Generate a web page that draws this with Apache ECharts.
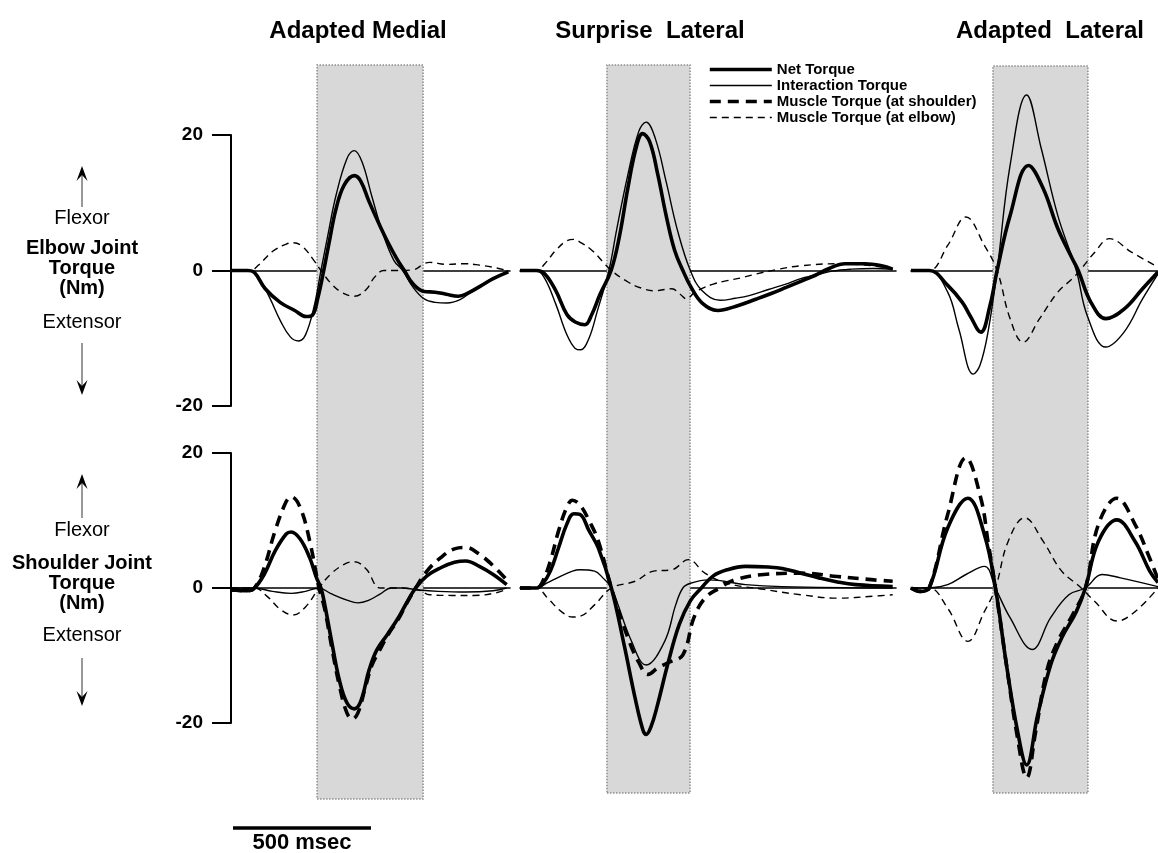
<!DOCTYPE html>
<html><head><meta charset="utf-8">
<script src="https://cdn.jsdelivr.net/npm/echarts@6/dist/echarts.min.js"></script>
<style>html,body{margin:0;padding:0;background:#fff}#c{width:1158px;height:853px}</style>
</head><body><div id="c"></div>
<script>
// ---------- data (time in ms, torque in Nm) ----------
const columnTitles = ['Adapted Medial', 'Surprise  Lateral', 'Adapted  Lateral'];
const seriesNames = ['Net Torque', 'Interaction Torque', 'Muscle Torque (at shoulder)', 'Muscle Torque (at elbow)'];
const yTicks = [-20, 0, 20];
const columnSpanMs = [1011, 1362, 895];
const shadeStartMs = [312, 315, 297];
const shadeEndMs = [696, 616, 641];
const scaleBarMs = 500;

// Adapted Medial — elbow
const amElbowNet = [[0,0],[60,0],[85,-0.3],[124,-2.7],[178,-4.7],[231,-5.9],[272,-6.8],[295,-6.6],[315,-4],[336,0],[355,4],[380,9],[410,12.6],[447,14],[470,13.2],[500,10.2],[535,7],[568,4.2],[600,1.8],[628,0],[660,-2],[700,-3.1],[740,-3.2],[780,-3.5],[824,-3.8],[860,-3.3],[904,-2.3],[950,-1.2],[1005,-0.2]];
const amElbowInt = [[0,0],[70,0],[100,-1],[140,-4],[180,-7.5],[215,-9.8],[245,-10.4],[270,-9.5],[300,-5.5],[326,0],[350,5],[380,11],[420,16.5],[447,17.7],[475,16],[510,11],[550,5.5],[590,1.5],[622,0],[660,-2.5],[700,-4.2],[740,-4.7],[783,-4.8],[830,-4.3],[870,-3.2],[920,-1.8],[970,-0.8],[1005,0]];
const amElbowMusE = [[0,0],[70,0],[100,0.8],[150,2.8],[200,3.9],[225,4.1],[260,3.5],[300,1.5],[326,0],[360,-1.8],[400,-3.2],[447,-3.8],[490,-2.8],[520,-1],[554,0],[600,0],[660,0.1],[700,1],[720,1.2],[780,0.9],[850,1],[900,0.8],[960,0.4],[1000,0]];
// Adapted Medial — shoulder
const amShoulderNet = [[0,-0.3],[60,-0.4],[85,0],[120,2],[160,5.5],[200,8],[218,8.3],[250,7.3],[285,4.5],[310,1.5],[326,0],[339,-2.3],[366,-8.2],[393,-13.7],[420,-17],[447,-17.9],[470,-16.8],[500,-12.2],[528,-9.2],[568,-6.8],[608,-4.3],[635,-2.3],[669,0],[710,1.8],[760,3],[810,3.8],[851,4],[900,3.2],[950,2],[999,0.5]];
const amShoulderInt = [[0,0],[85,0],[150,-0.5],[218,-0.8],[270,-0.5],[319,0],[360,-0.8],[420,-1.8],[460,-2.2],[500,-1.8],[540,-0.9],[581,0],[620,0],[680,-0.3],[750,-0.5],[850,-0.6],[950,-0.4],[999,0]];
const amShoulderMusS = [[0,-0.3],[60,-0.4],[85,0],[120,3],[160,8.5],[200,12.8],[218,13.5],[250,12],[285,7],[319,0],[339,-3],[366,-9],[393,-14.5],[420,-18.5],[440,-19.4],[460,-18.5],[485,-15],[510,-11.5],[535,-9.5],[568,-7],[608,-4.5],[635,-2.4],[669,0],[710,2.5],[760,4.5],[810,5.8],[851,6],[900,5],[950,3.3],[999,1.2]];
const amShoulderMusE = [[0,0],[85,0],[130,-1.2],[180,-3.2],[225,-4],[270,-2.8],[319,0],[360,2],[410,3.5],[447,3.9],[490,2.8],[541,0],[600,0],[680,-0.3],[720,-1],[800,-1.1],[880,-1.1],[950,-0.8],[999,-0.2]];

// Surprise Lateral — elbow
const slElbowNet = [[0,0],[60,0],[90,-0.5],[130,-3],[170,-6.5],[200,-7.6],[235,-8],[260,-6.5],[290,-3.5],[330,0],[360,5],[390,12],[420,18],[444,20.2],[470,19],[500,14],[530,8],[560,3],[590,0],[620,-2.5],[660,-4.8],[717,-5.9],[780,-5.3],[857,-4.2],[910,-3.4],[964,-2.5],[1017,-1.6],[1070,-0.7],[1120,0.3],[1177,1],[1250,1],[1310,0.7],[1350,0.2]];
const slElbowInt = [[0,0],[60,0],[90,-1.2],[130,-5],[170,-9.5],[200,-11.5],[220,-11.7],[250,-10],[280,-6],[322,0],[350,6],[390,14],[430,20.5],[457,21.9],[490,19.5],[530,13],[570,6],[617,0],[660,-3],[725,-4.4],[780,-4.1],[830,-3.7],[900,-2.8],[963,-2],[1017,-1.2],[1070,-0.7],[1130,-0.1],[1200,0.2],[1280,0.3],[1350,0.2]];
const slElbowMusE = [[0,0],[60,0],[90,1],[130,3],[170,4.4],[195,4.6],[217,4.2],[260,3],[300,1.3],[331,0],[391,-1.7],[440,-2.6],[484,-3],[550,-2.7],[580,-3.5],[604,-4.2],[630,-3.3],[657,-2.7],[700,-2],[750,-1.5],[800,-1.1],[857,-0.5],[937,0.2],[1017,0.7],[1150,1],[1250,0.8],[1310,0.5],[1350,0.2]];
// Surprise Lateral — shoulder
const slShoulderNet = [[0,0],[60,0],[80,0.5],[110,2.5],[140,6],[170,9.5],[195,11],[217,10.9],[250,8.5],[284,5.9],[331,0],[377,-8.4],[417,-16.3],[445,-21],[457,-21.7],[475,-20.5],[497,-17.5],[537,-11],[577,-5.4],[617,-1.9],[657,0],[700,1.8],[750,2.7],[817,3.2],[900,3.1],[950,2.9],[1017,2.2],[1083,1.5],[1150,0.9],[1216,0.5],[1350,0.2]];
const slShoulderInt = [[0,0],[60,0],[100,0.8],[150,1.8],[190,2.5],[217,2.7],[270,2.5],[300,1.5],[331,0],[404,-7.9],[457,-11.4],[524,-7.9],[564,-2.5],[590,0],[617,0.7],[684,1.2],[817,0.5],[950,0.2],[1350,0]];
const slShoulderMusS = [[0,0],[60,0],[80,0.8],[110,4],[140,8.5],[170,12],[190,13],[217,12.3],[250,10],[284,6.9],[331,0],[391,-7.4],[430,-11],[464,-12.8],[500,-11.8],[540,-11],[590,-9.9],[630,-4.4],[670,-1.5],[723,0],[777,1.2],[883,2],[1017,2.2],[1150,1.7],[1283,1.2],[1350,1]];
const slShoulderMusE = [[0,0],[60,0],[100,-1.5],[150,-3.5],[190,-4.3],[217,-4.2],[270,-2.5],[331,0],[417,1],[484,2.5],[550,2.7],[610,4.2],[670,2.2],[750,0.7],[883,-0.2],[1017,-1],[1150,-1.5],[1283,-1.2],[1350,-1]];

// Adapted Lateral — elbow
const alElbowNet = [[0,0],[66,0],[133,-2.2],[186,-4.7],[213,-6.6],[253,-9.1],[286,-5.2],[312,0],[359,8.1],[426,15.5],[479,12.1],[532,6.2],[585,1.7],[606,0],[652,-4.7],[706,-7.1],[772,-5.7],[839,-2.7],[895,-0.2]];
const alElbowInt = [[0,0],[66,0],[133,-3.2],[173,-8.6],[226,-15.3],[250,-14],[279,-9.1],[312,0],[359,15.5],[419,25.9],[472,18],[532,8.1],[599,0],[639,-6.7],[706,-11.3],[772,-9.1],[839,-4.2],[895,-0.5]];
const alElbowMusE = [[0,0],[66,0],[133,3.7],[199,7.9],[266,3.7],[312,0],[359,-7.1],[406,-10.6],[466,-7.1],[532,-3.2],[585,-1.2],[612,0],[666,2.7],[719,4.7],[799,2.7],[895,0.5]];
// Adapted Lateral — shoulder
const alShoulderNet = [[0,0],[33,-0.5],[66,0],[133,8.9],[206,13.3],[266,7.9],[306,0],[346,-11.4],[386,-21.2],[419,-26.2],[459,-18.8],[506,-11.4],[546,-7.4],[599,-3.5],[632,0],[679,6.9],[746,10.1],[812,6.9],[865,2.5],[895,0.8]];
const alShoulderInt = [[0,0],[66,0],[133,0.5],[199,2],[266,3.2],[306,0],[359,-4.4],[439,-9.1],[506,-4.4],[572,-1],[632,0],[692,2],[759,1.5],[895,0.2]];
const alShoulderMusS = [[0,0],[33,-0.5],[66,0],[133,10.9],[199,19.3],[253,13.3],[279,6.9],[306,0],[346,-11.4],[386,-22.2],[419,-28.1],[452,-21.2],[492,-12.3],[532,-7.9],[585,-4],[632,0],[679,9.4],[746,13.3],[812,9.4],[865,4.4],[895,1.3]];
const alShoulderMusE = [[0,0],[66,0],[133,-3],[206,-7.9],[266,-3.5],[306,0],[352,6.9],[412,10.4],[479,6.9],[546,2.5],[612,0.2],[666,-2],[746,-4.9],[812,-3.5],[895,0]];

// ---------- layout ----------
const FONT = "'Liberation Sans', Arial, Helvetica, sans-serif";
const rowBoxes = [{top:135, height:271}, {top:453, height:270}];
const colBoxes = [{left:231, width:279}, {left:520, width:376}, {left:911, width:247}];
const shadeBoxes = [{top:65, height:734}, {top:65, height:728}, {top:66, height:727}];

const panels = [
  [ [amElbowNet, amElbowInt, null, amElbowMusE], [slElbowNet, slElbowInt, null, slElbowMusE], [alElbowNet, alElbowInt, null, alElbowMusE] ],
  [ [amShoulderNet, amShoulderInt, amShoulderMusS, amShoulderMusE], [slShoulderNet, slShoulderInt, slShoulderMusS, slShoulderMusE], [alShoulderNet, alShoulderInt, alShoulderMusS, alShoulderMusE] ]
];
const lineLook = [
  {width:3.6, type:'solid', z:6},
  {width:1.4, type:'solid', z:5},
  {width:3.6, type:[11,7], z:4},
  {width:1.4, type:[7,5], z:4}
];

const grids = [], xAxes = [], yAxes = [], series = [];
for (let r = 0; r < 2; r++) {
  for (let c = 0; c < 3; c++) {
    const g = grids.length;
    grids.push({left: colBoxes[c].left, width: colBoxes[c].width, top: rowBoxes[r].top, height: rowBoxes[r].height, containLabel:false});
    xAxes.push({type:'value', gridIndex:g, min:0, max:columnSpanMs[c],
      axisLine:{show:true, onZero:true, lineStyle:{color:'#000', width:1.6}},
      axisTick:{show:false}, axisLabel:{show:false}, splitLine:{show:false}});
    const showY = c === 0;
    yAxes.push({type:'value', gridIndex:g, min:yTicks[0], max:yTicks[2], interval:20, show:showY,
      axisLine:{show:true, lineStyle:{color:'#000', width:2}},
      axisTick:{show:true, inside:false, length:19, lineStyle:{color:'#000', width:2}},
      axisLabel:{show:true, margin:28, color:'#000', fontWeight:'bold', fontSize:19, fontFamily:FONT},
      splitLine:{show:false}});
    panels[r][c].forEach((data, k) => {
      if (!data) return;
      series.push({type:'line', name:seriesNames[k], xAxisIndex:g, yAxisIndex:g, data:data,
        smooth:0.4, symbol:'none', clip:false, z:lineLook[k].z,
        lineStyle:{color:'#000', width:lineLook[k].width, type:lineLook[k].type, cap:'butt'},
        itemStyle:{color:'#000'}});
    });
  }
}
// shaded movement windows: one full-height hidden grid per column
for (let c = 0; c < 3; c++) {
  const g = grids.length;
  grids.push({left: colBoxes[c].left, width: colBoxes[c].width, top: shadeBoxes[c].top, height: shadeBoxes[c].height});
  xAxes.push({type:'value', gridIndex:g, min:0, max:columnSpanMs[c], show:false});
  yAxes.push({type:'value', gridIndex:g, min:0, max:1, show:false});
  series.push({type:'line', xAxisIndex:g, yAxisIndex:g, data:[], z:1, silent:true,
    markArea:{silent:true, itemStyle:{color:'#d8d8d8', borderColor:'#8c8c8c', borderWidth:1.5, borderType:'dotted'},
      data:[[{xAxis:shadeStartMs[c], yAxis:0}, {xAxis:shadeEndMs[c], yAxis:1}]]}});
}

const chart = echarts.init(document.getElementById('c'), null, {renderer:'canvas'});
chart.setOption({
  animation:false,
  backgroundColor:'#fff',
  grid:grids, xAxis:xAxes, yAxis:yAxes, series:series,
  legend:{data:seriesNames, orient:'vertical', left:708, top:62, itemWidth:62, itemHeight:14, itemGap:1, padding:0,
    selectedMode:false,
    itemStyle:{color:'rgba(0,0,0,0)', borderColor:'rgba(0,0,0,0)', borderWidth:0, opacity:0},
    lineStyle:{width:'inherit', type:'inherit', color:'#000'},
    textStyle:{color:'#000', fontWeight:'bold', fontSize:15, fontFamily:FONT}}
});

// ---------- text and decorations ----------
function txt(text, x, y, size, bold) {
  return {type:'text', silent:true, z:10, style:{text:text, x:x, y:y, fill:'#000',
    font:(bold ? 'bold ' : '') + size + 'px ' + FONT, textAlign:'center', align:'center', textVerticalAlign:'middle', verticalAlign:'middle'}};
}
function arrow(x, yTail, yTip) {
  const dir = yTip < yTail ? 1 : -1;
  return [
    {type:'line', silent:true, shape:{x1:x, y1:yTail, x2:x, y2:yTip + dir*6}, style:{stroke:'#333', lineWidth:1}},
    {type:'polygon', silent:true, shape:{points:[[x, yTip], [x-5.5, yTip + dir*15], [x, yTip + dir*9], [x+5.5, yTip + dir*15]]}, style:{fill:'#000'}}
  ];
}
const graphics = [];
const titleX = [358, 650, 1050];
columnTitles.forEach((t, i) => graphics.push(txt(t, titleX[i], 31, 24, true)));
const leftLabels = [
  {flex:218, lines:['Elbow Joint','Torque','(Nm)'], l0:248, ext:322, up:[207,166], down:[343,395]},
  {flex:530, lines:['Shoulder Joint','Torque','(Nm)'], l0:563, ext:635, up:[518,474], down:[658,706]}
];
leftLabels.forEach(L => {
  graphics.push(txt('Flexor', 82, L.flex, 20, false));
  L.lines.forEach((s, i) => graphics.push(txt(s, 82, L.l0 + i*20, 20, true)));
  graphics.push(txt('Extensor', 82, L.ext, 20, false));
  graphics.push(...arrow(82, L.up[0], L.up[1]));
  graphics.push(...arrow(82, L.down[0], L.down[1]));
});
const x0 = chart.convertToPixel({xAxisIndex:0}, 0);
const x1 = chart.convertToPixel({xAxisIndex:0}, scaleBarMs);
graphics.push({type:'line', silent:true, shape:{x1:x0+2, y1:828, x2:x1+2, y2:828}, style:{stroke:'#000', lineWidth:3.5}});
graphics.push(txt(scaleBarMs + ' msec', (x0+x1)/2 + 2, 843, 22, true));
chart.setOption({graphic:graphics});
</script></body></html>
